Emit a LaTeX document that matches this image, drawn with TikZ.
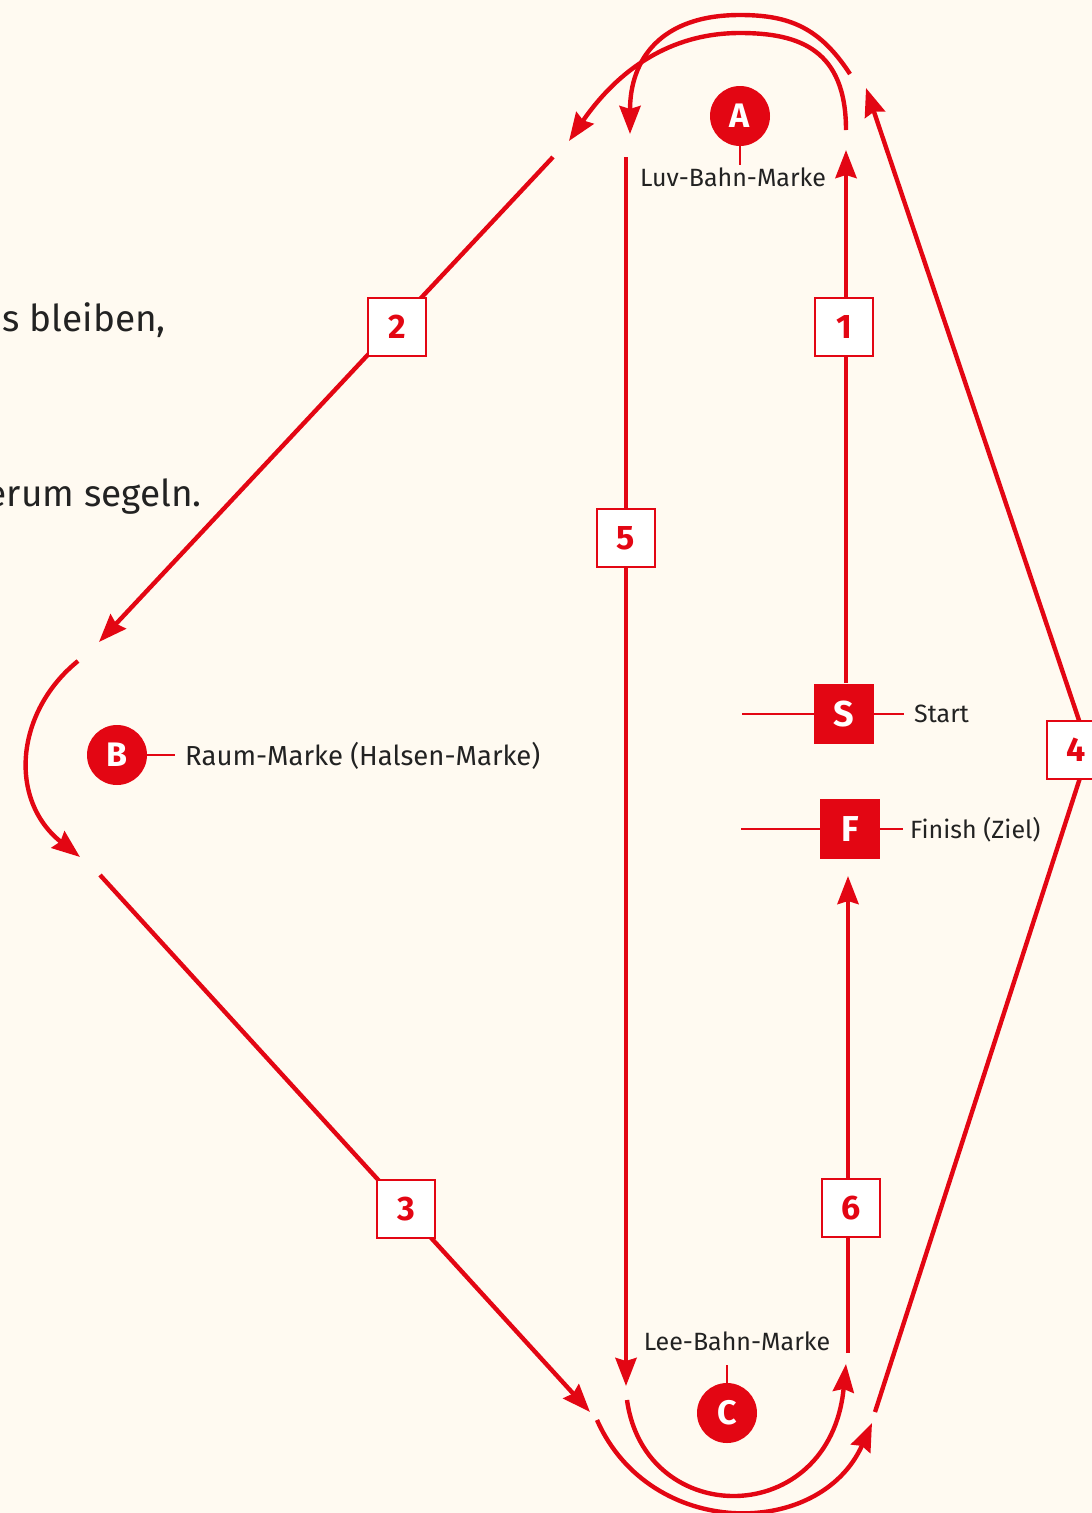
\documentclass[tikz,border=0pt]{standalone}
\usepackage{fontspec}
\setmainfont{Fira Sans}
\usetikzlibrary{arrows.meta}
\definecolor{bg}{HTML}{FFFAF1}
\definecolor{rd}{HTML}{E30613}
\definecolor{tx}{HTML}{222222}
\begin{document}
\begin{tikzpicture}[x=1pt,y=-1pt,
  leg/.style={draw=rd, line width=4.4pt},
  arr/.style={leg, -{Stealth[length=28pt,width=21pt,inset=3pt]}},
  numbox/.style={draw=rd, fill=white, line width=1.5pt, minimum size=58pt, inner sep=0pt, text=rd, font=\fontsize{34}{34}\selectfont\bfseries},
  markc/.style={circle, fill=rd, minimum size=60pt, inner sep=0pt, text=white, font=\fontsize{34}{34}\selectfont\bfseries},
  marksq/.style={fill=rd, minimum size=60pt, inner sep=0pt, text=white, font=\fontsize{36}{36}\selectfont\bfseries},
  lbl/.style={text=tx, inner sep=0pt, font=\fontsize{25}{25}\selectfont},
  lblb/.style={text=tx, inner sep=0pt, font=\fontsize{27.5}{27.5}\selectfont},
  big/.style={text=tx, inner sep=0pt, font=\fontsize{37}{37}\selectfont},
  lead/.style={draw=rd, line width=1.5pt}]
\fill[bg] (0,0) rectangle (1092,1513);
\useasboundingbox (0,0) rectangle (1092,1513);

% partial text on the left
\node[big, anchor=base east] (t1) at (166,331) {ds bleiben,};
\node[big, anchor=base east] (t2) at (202,506) {erum segeln.};

% marks
\node[markc] (A) at (740,116) {A};
\node[markc] (B) at (117,755) {B};
\node[markc] (C) at (727,1413) {C};
\node[lbl, anchor=base] (Al) at (733,186) {Luv-Bahn-Marke};
\node[lblb, anchor=west] (Bl) at (185,756) {Raum-Marke (Halsen-Marke)};
\node[lbl, anchor=base] (Cl) at (737,1350) {Lee-Bahn-Marke};
\coordinate (Ald) at (740,165);
\coordinate (Bld) at (175,755);
\coordinate (Cld) at (727,1365);
\draw[lead] (A.south) -- (Ald);
\draw[lead] (B.east) -- (Bld);
\draw[lead] (C.north) -- (Cld);

% start and finish
\node[marksq] (S) at (844,714) {S};
\node[marksq] (F) at (850,829) {F};
\coordinate (Sw) at (742,714);
\coordinate (Se) at (904,714);
\coordinate (Fw) at (741,829);
\coordinate (Fe) at (903,829);
\draw[lead] (Sw) -- (S.west);
\draw[lead] (S.east) -- (Se);
\draw[lead] (Fw) -- (F.west);
\draw[lead] (F.east) -- (Fe);
\node[lbl, anchor=west] (Sl) at (914,714) {Start};
\node[lbl, anchor=west] (Fl) at (910,830) {Finish (Ziel)};

% path coordinates
\coordinate (p1s) at (846,683);
\coordinate (p1e) at (846,150);
\coordinate (a1s) at (846,130);
\coordinate (a1e) at (569,141);
\coordinate (p5s) at (626,157);
\coordinate (p5e) at (626,1386);
\coordinate (c1s) at (627,1400);
\coordinate (c1e) at (846,1364);
\coordinate (p6s) at (848,1353);
\coordinate (p6e) at (848,876);
\coordinate (a2s) at (850,74);
\coordinate (a2e) at (630,134);
\coordinate (p2s) at (553,157);
\coordinate (p2e) at (99,642);
\coordinate (bs) at (78,661);
\coordinate (be) at (80,857);
\coordinate (p3s) at (100,875);
\coordinate (p3e) at (590,1412);
\coordinate (c2s) at (597,1420);
\coordinate (c2e) at (872,1423);
\coordinate (p4s) at (875,1412);
\coordinate (p4m) at (1089,750);
\coordinate (p4e) at (866,88);

% legs
\draw[arr] (p1s) -- (p1e);
\draw[arr] (a1s) .. controls (846,50) and (800,33) .. (740,33) .. controls (670,33) and (618,70) .. (a1e);
\draw[arr] (p5s) -- (p5e);
\draw[arr] (c1s) .. controls (645,1530) and (830,1530) .. (c1e);
\draw[arr] (p6s) -- (p6e);
\draw[arr] (a2s) .. controls (820,28) and (790,15) .. (740,15) .. controls (660,15) and (630,60) .. (a2e);
\draw[arr] (p2s) -- (p2e);
\draw[arr] (bs) .. controls (15,712) and (8,800) .. (be);
\draw[arr] (p3s) -- (p3e);
\draw[arr] (c2s) .. controls (650,1540) and (820,1540) .. (c2e);
\draw[arr] (p4s) -- (p4m) -- (p4e);

% number boxes
\node[numbox] (n1) at (844,327) {1};
\node[numbox] (n2) at (397,327) {2};
\node[numbox] (n3) at (406,1209) {3};
\node[numbox] (n4) at (1076,750) {4};
\node[numbox] (n5) at (626,538) {5};
\node[numbox] (n6) at (851,1208) {6};
\end{tikzpicture}
\end{document}
